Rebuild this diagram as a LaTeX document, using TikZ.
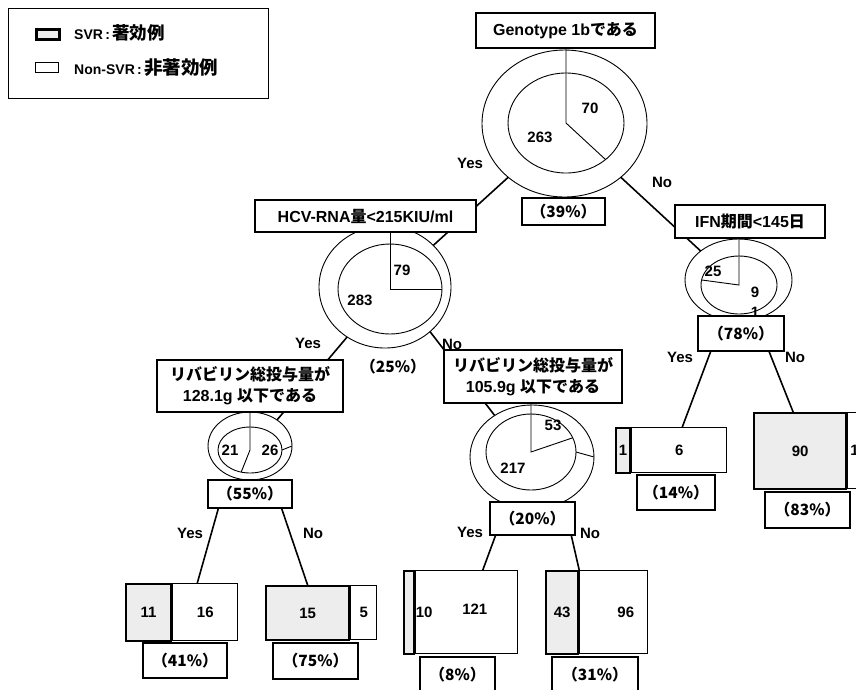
\documentclass[tikz,border=0pt]{standalone}
\usepackage{fontspec}
\setmainfont{Liberation Sans}
\newfontfamily\jp{Noto Sans CJK JP}
\newcommand{\ja}[1]{{\jp #1}}
\usetikzlibrary{calc,backgrounds}

\begin{document}
\begin{tikzpicture}[x=1pt, y=-1pt,
  box/.style={draw, line width=1.6pt, fill=white, inner sep=0pt, align=center, font=\bfseries\fontsize{16}{21}\selectfont},
  pct/.style={box, font=\bfseries\fontsize{15.5}{18}\selectfont},
  num/.style={inner sep=0pt, font=\bfseries\fontsize{15}{17}\selectfont},
  ring/.style={line width=0.9pt},
  branch/.style={line width=1.6pt},
  svr/.style={draw, line width=2.2pt, fill=black!7, inner sep=0pt, anchor=north west, font=\bfseries\fontsize{15}{17}\selectfont},
  nsvr/.style={draw, line width=1.2pt, fill=white, inner sep=0pt, anchor=north west, font=\bfseries\fontsize{15}{17}\selectfont}]

\useasboundingbox (0,0) rectangle (856,689);

% legend
\node[draw, line width=1.2pt, minimum width=260pt, minimum height=90pt, anchor=north west] (legend) at (8,8) {};
\node[svr, line width=2.6pt, minimum width=23pt, minimum height=10pt] (sw1) at (35,28) {};
\node[nsvr, minimum width=23pt, minimum height=10pt] (sw2) at (35,62) {};
\node[num, anchor=west, font=\bfseries\fontsize{14}{17}\selectfont] (lg1) at (74,33) {SVR\,:\,{\fontsize{17.5}{19}\selectfont\jp 著効例}};
\node[num, anchor=west, font=\bfseries\fontsize{14}{17}\selectfont] (lg2) at (74,68) {Non-SVR\,:\,{\fontsize{18.5}{19}\selectfont\jp 非著効例}};

% centres of the rings
\coordinate (rc) at (564.5,123.5);  \coordinate (rci) at (566,123);
\coordinate (hc) at (385,287);      \coordinate (hci) at (390,289);
\coordinate (fc) at (738.5,280);    \coordinate (fci) at (739,285);
\coordinate (ac) at (250,446);      \coordinate (aci) at (250,450);
\coordinate (bc) at (532,457);      \coordinate (bci) at (531,452);

% split boxes
\node[box, minimum width=179pt, minimum height=35pt] (root) at (565.5,30.5) {Genotype 1b\ja{である}};
\node[box, minimum width=221pt, minimum height=32pt] (hcv) at (365.5,216) {HCV-RNA\ja{量}<215KIU/ml};
\node[box, minimum width=150pt, minimum height=33pt] (ifn) at (750,221.5) {IFN\ja{期間}<145\ja{日}};
\node[box, minimum width=186pt, minimum height=52pt] (ribL) at (250,386) {\ja{リバビリン総投与量が}\\128.1g \ja{以下である}};
\node[box, minimum width=178pt, minimum height=53pt] (ribR) at (533,376.5) {\ja{リバビリン総投与量が}\\105.9g \ja{以下である}};

% rates
\node[pct, minimum width=83pt, minimum height=27pt] (p39) at (563.5,211.5) {\ja{（39\%）}};
\node[pct, draw=none, fill=none] (p25) at (393,367) {\ja{（25\%）}};
\node[pct, minimum width=86pt, minimum height=35pt] (p78) at (741,333.5) {\ja{（78\%）}};
\node[pct, minimum width=84pt, minimum height=28pt] (p55) at (250,494) {\ja{（55\%）}};
\node[pct, minimum width=85pt, minimum height=33pt] (p20) at (532.5,518.5) {\ja{（20\%）}};

% leaves
\node[svr, minimum width=45pt, minimum height=57pt] (l1a) at (125,583) {11};
\node[nsvr, minimum width=65pt, minimum height=57pt] (l1b) at (l1a.north east) {16};
\node[svr, minimum width=83pt, minimum height=54pt] (l2a) at (265,585) {15};
\node[nsvr, minimum width=26pt, minimum height=54pt] (l2b) at (l2a.north east) {5};
\node[svr, minimum width=10pt, minimum height=83pt] (l3a) at (403,570) {};
\node[nsvr, minimum width=102pt, minimum height=83pt] (l3b) at (l3a.north east) {};
\node[num] (l3n) at ([xshift=9pt]l3a.east) {10};
\node[num] (l3m) at ([xshift=8pt,yshift=3pt]l3b.center) {121};
\node[svr, minimum width=32pt, minimum height=83pt] (l4a) at (545,570) {43};
\node[nsvr, minimum width=68pt, minimum height=83pt] (l4b) at (l4a.north east) {};
\node[num] (l4m) at ([xshift=12pt]l4b.center) {96};
\node[svr, minimum width=14pt, minimum height=45pt] (l5a) at (615,427) {1};
\node[nsvr, minimum width=95pt, minimum height=45pt] (l5b) at (l5a.north east) {6};
\node[svr, minimum width=92pt, minimum height=76pt] (l6a) at (753,412) {90};
\node[nsvr, minimum width=30pt, minimum height=76pt] (l6b) at (l6a.north east) {};
\node[num, anchor=west] (l6m) at ([xshift=3pt]l6b.west) {18};

\node[pct, minimum width=84pt, minimum height=35pt] (p41) at (185,660.5) {\ja{（41\%）}};
\node[pct, minimum width=85pt, minimum height=36pt] (p75) at (315.5,661) {\ja{（75\%）}};
\node[pct, minimum width=75pt, minimum height=35pt] (p8) at (457.5,674.5) {\ja{（8\%）}};
\node[pct, minimum width=86pt, minimum height=35pt] (p31) at (595,674.5) {\ja{（31\%）}};
\node[pct, minimum width=78pt, minimum height=35pt] (p14) at (676,492.5) {\ja{（14\%）}};
\node[pct, minimum width=85pt, minimum height=36pt] (p83) at (807.5,510) {\ja{（83\%）}};

% counts in the rings
\node[num] (v70) at (590,108) {70};
\node[num] (v263) at (540,137) {263};
\node[num] (v79) at (402,270) {79};
\node[num] (v283) at (360,300) {283};
\node[num] (v25) at (713,271) {25};
\node[num] (v9) at (755,292) {9};
\node[num] (v1) at (755,312) {1};
\node[num] (v21) at (230,450) {21};
\node[num] (v26) at (270,450) {26};
\node[num] (v53) at (553,425) {53};
\node[num] (v217) at (513,468) {217};

% Yes / No
\node[num] (y1) at (470,163) {Yes};  \node[num] (n1) at (662,182) {No};
\node[num] (y2) at (308,343) {Yes};  \node[num] (n2) at (452,344) {No};
\node[num] (y3) at (680,357) {Yes};  \node[num] (n3) at (795,357) {No};
\node[num] (y4) at (190,533) {Yes};  \node[num] (n4) at (313,533) {No};
\node[num] (y5) at (470,532) {Yes};  \node[num] (n5) at (590,533) {No};

\begin{scope}[on background layer]
% rings
\draw[ring] (rc) ellipse [x radius=82.5pt, y radius=73.5pt];
\draw[ring] (rci) ellipse [x radius=58pt, y radius=50pt];
\draw[ring] (hc) ellipse [x radius=66pt, y radius=61pt];
\draw[ring] (hci) ellipse [x radius=52pt, y radius=45pt];
\draw[ring] (fc) ellipse [x radius=53.5pt, y radius=41pt];
\draw[ring] (fci) ellipse [x radius=38pt, y radius=29pt];
\draw[ring] (ac) ellipse [x radius=42pt, y radius=34pt];
\draw[ring] (aci) ellipse [x radius=32pt, y radius=23pt];
\draw[ring] (bc) ellipse [x radius=62pt, y radius=52pt];
\draw[ring] (bci) ellipse [x radius=45pt, y radius=38pt];

% slices
\draw[ring] (rci |- root.south) -- (rci) -- ($(rci)+(47:58 and 50)$);
\draw[ring] (hci |- hcv.south) -- (hci) -- ($(hci)+(0:52 and 45)$);
\draw[ring] (fci |- ifn.south) -- (fci) -- ($(fci)+(190:38 and 29)$);
\draw[ring] (aci |- ribL.south) -- (aci) -- ($(aci)+(106:32 and 23)$);
\draw[ring] ($(aci)+(0:32 and 23)$) -- ($(ac)+(0:42 and 34)$);
\draw[ring] (bci |- ribR.south) -- (bci) -- ($(bci)+(-22:45 and 38)$);
\draw[ring] ($(bci)+(0:45 and 38)$) -- ($(bc)+(0:62 and 52)$);

% branches between rings
\coordinate (ry) at ($(rc)+(133:82.5 and 73.5)$);
\coordinate (rn) at ($(rc)+(47:82.5 and 73.5)$);
\coordinate (hy) at ($(hc)+(125:66 and 61)$);
\coordinate (hn) at ($(hc)+(47:66 and 61)$);
\coordinate (hin) at ($(hc)+(-43:66 and 61)$);
\coordinate (fin) at ($(fc)+(225:53.5 and 41)$);
\coordinate (ain) at ($(ac)+(-50:42 and 34)$);
\coordinate (bin) at ($(bc)+(233:62 and 52)$);
\draw[branch] (ry) -- (hin);
\draw[branch] (rn) -- (fin);
\draw[branch] (hy) -- (ain);
\draw[branch] (hn) -- (bin);
\end{scope}

% branches to leaves
\draw[branch] (p55.205) -- ([xshift=-8pt]l1b.north);
\draw[branch] (p55.335) -- (l2a.north);
\draw[branch] (p20.205) -- ([xshift=16pt]l3b.north);
\draw[branch] (p20.336) -- (l4a.north east);
\draw[branch] (p78.211) -- ([xshift=3pt]l5b.north);
\draw[branch] (p78.327) -- ([xshift=-7pt]l6a.north);

\end{tikzpicture}
\end{document}
